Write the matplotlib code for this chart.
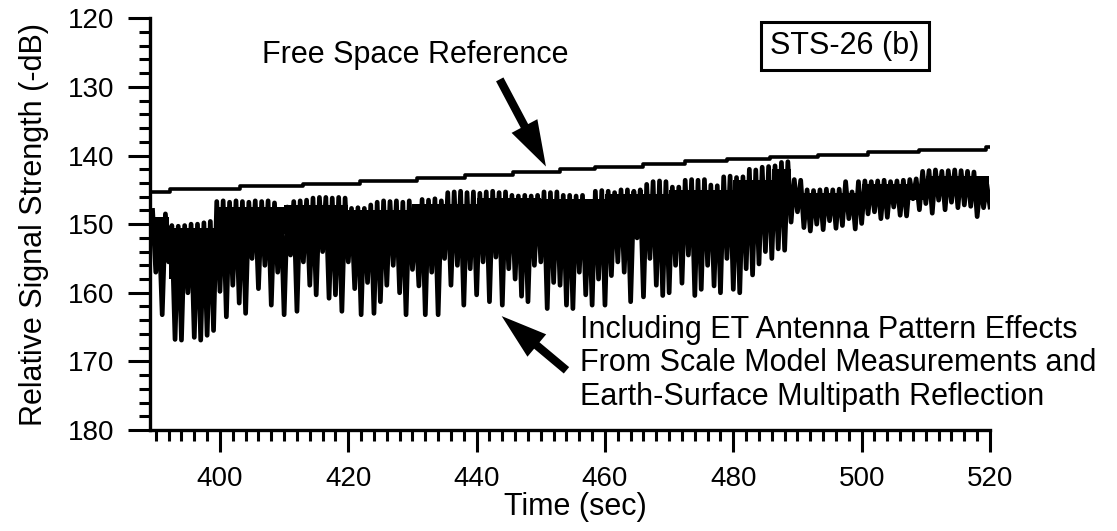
import numpy as np
import matplotlib.pyplot as plt

plt.rcParams['font.family'] = ['Liberation Sans', 'DejaVu Sans']

# free space reference (stair steps), time in sec, strength in -dB
fs_time = [389.5, 392.2, 403.1, 412.9, 421.8, 430.7, 438.2, 445.6, 453.0,
           458.4, 465.9, 472.5, 479.0, 485.7, 493.2, 501.0, 509.0, 519.3, 520.0]
fs_level = [145.3, 144.9, 144.5, 144.1, 143.7, 143.2, 142.8, 142.4, 142.0,
            141.6, 141.2, 140.8, 140.5, 140.2, 139.9, 139.5, 139.2, 138.8, 138.8]

# signal with ET antenna pattern + multipath: upper envelope at t = 389.5, 390.5, ...
sig_top = [148.0, 150.0, 148.5, 150.2, 150.3, 150.2, 150.0, 150.0, 149.8, 149.6,
           146.7, 146.6, 146.8, 146.6, 146.7, 146.8, 146.6, 146.7, 146.6, 146.9,
           148.0, 147.5, 146.7, 146.6, 146.5, 146.2, 146.1, 146.1, 146.2, 146.1,
           146.2, 147.7, 147.6, 147.7, 147.2, 146.8, 146.6, 146.7, 146.6, 146.8,
           146.6, 149.5, 146.4, 146.5, 146.3, 146.6, 145.4, 145.3, 145.2, 145.4,
           145.3, 145.5, 145.3, 145.2, 145.4, 145.3, 145.8, 145.9, 145.8, 145.9,
           145.8, 145.3, 145.4, 145.3, 145.8, 145.8, 145.9, 145.8, 147.2, 145.2,
           145.1, 145.2, 145.4, 145.0, 145.0, 145.2, 145.0, 144.2, 143.8, 143.7,
           143.8, 144.6, 144.6, 143.6, 143.5, 143.6, 143.5, 144.3, 144.4, 143.1,
           143.0, 143.2, 143.1, 142.0, 142.1, 141.7, 141.6, 141.5, 141.0, 140.9,
           143.5, 143.6, 145.0, 145.1, 145.0, 144.9, 145.0, 144.9, 143.8, 145.3,
           143.8, 143.7, 143.8, 143.7, 143.6, 143.8, 143.7, 143.6, 143.5, 143.4,
           142.3, 142.2, 142.1, 142.3, 142.2, 142.1, 142.2, 142.3, 142.4, 144.0,
           144.2]
# fades (dips) at t = 390, 391, ...
sig_dip = [157.0, 163.2, 155.5, 166.8, 166.9, 160.0, 166.5, 166.9, 166.2, 165.5,
           159.8, 163.5, 158.9, 161.5, 163.0, 155.0, 159.4, 156.0, 161.8, 157.0,
           163.2, 154.5, 162.7, 155.5, 158.9, 160.3, 154.0, 160.8, 160.3, 162.7,
           155.5, 159.4, 163.2, 158.5, 163.0, 161.3, 158.9, 156.0, 160.0, 163.2,
           156.6, 159.0, 163.2, 157.0, 163.2, 155.0, 158.9, 156.0, 161.8, 156.5,
           160.3, 155.5, 161.3, 154.8, 161.8, 156.5, 158.0, 160.5, 161.3, 156.0,
           155.5, 162.3, 158.5, 158.9, 161.8, 162.3, 157.0, 160.3, 161.8, 158.0,
           161.8, 157.5, 155.5, 157.0, 161.3, 152.0, 160.6, 155.0, 158.9, 160.4,
           160.0, 156.0, 158.6, 154.5, 160.4, 159.5, 156.0, 159.0, 160.0, 155.0,
           159.5, 160.0, 156.5, 157.4, 155.8, 154.0, 155.0, 153.6, 153.8, 149.7,
           148.2, 150.5, 151.0, 150.0, 150.8, 149.5, 150.6, 150.2, 149.2, 150.7,
           149.9, 148.5, 148.2, 149.2, 149.0, 147.5, 148.7, 148.8, 146.3, 147.9,
           147.0, 148.4, 146.5, 147.9, 146.8, 147.6, 147.2, 147.4, 148.9, 147.6,
           147.5]

# solid (unresolved) part of the trace: segment start times and its upper/lower level
core_time = [389.6, 392, 399.5, 410, 420, 430, 440, 450, 460, 470, 480, 486, 489, 500, 510, 519.8]
core_upper = [149.0, 150.5, 147.5, 147.2, 148.0, 147.0, 146.2, 146.3, 145.6, 145.0,
              143.5, 142.0, 145.5, 144.2, 143.0, 143.0]
core_lower = [153.0, 158.0, 152.0, 151.5, 152.0, 151.0, 151.0, 151.5, 151.0, 150.0,
              149.0, 146.5, 147.5, 146.5, 145.5, 145.5]

x_ticks = [400, 420, 440, 460, 480, 500, 520]
y_ticks = [120, 130, 140, 150, 160, 170, 180]


def main():
    # interleave envelope and fades so the trace zig-zags like the recorder plot
    t_top = 389.5 + np.arange(len(sig_top))
    t_dip = 390.0 + np.arange(len(sig_dip))
    t = np.empty(len(t_top) + len(t_dip))
    v = np.empty_like(t)
    t[0::2], v[0::2] = t_top, sig_top
    t[1::2], v[1::2] = t_dip, sig_dip

    fig = plt.figure(figsize=(11.17, 5.31), dpi=100)
    ax = fig.add_axes([0.1343, 0.1902, 0.752, 0.7753])

    ax.fill_between(core_time, core_upper, core_lower, step='post', color='k', lw=0)
    ax.plot(t, v, color='k', lw=3.4, solid_joinstyle='round')
    ax.plot(fs_time, fs_level, color='k', lw=2.6, drawstyle='steps-post')

    ax.set_xlim(389.1, 520)
    ax.set_ylim(180, 120)
    ax.set_xticks(x_ticks)
    ax.set_xticks(np.arange(390, 520, 2), minor=True)
    ax.set_yticks(y_ticks)
    ax.set_yticks(np.arange(120, 181, 2), minor=True)

    for s in ['top', 'right']:
        ax.spines[s].set_visible(False)
    for s in ['left', 'bottom']:
        ax.spines[s].set_linewidth(2.4)
    ax.tick_params(which='major', direction='out', length=16, width=2.2, labelsize=20, pad=10)
    ax.tick_params(which='minor', direction='out', length=8, width=2.2)

    ax.set_xlabel('Time (sec)', fontsize=22)
    ax.xaxis.set_label_coords(0.506, -0.15)
    ax.set_ylabel('Relative Signal Strength (-dB)', fontsize=22)
    ax.yaxis.set_label_coords(-0.12, 0.5)

    ax.text(406.5, 126.5, 'Free Space Reference', fontsize=22, va='baseline', ha='left')
    ax.text(497.4, 124.0, 'STS-26 (b)', fontsize=22, va='center', ha='center',
            bbox=dict(boxstyle='square,pad=0.3', fc='white', ec='k', lw=2.2))
    ax.text(456.1, 166.55, 'Including ET Antenna Pattern Effects', fontsize=22, va='baseline')
    ax.text(456.1, 171.4, 'From Scale Model Measurements and', fontsize=22, va='baseline')
    ax.text(456.1, 176.3, 'Earth-Surface Multipath Reflection', fontsize=22, va='baseline')

    arrow = dict(arrowstyle='simple,head_length=1.1,head_width=0.7,tail_width=0.2',
                 mutation_scale=30, fc='k', ec='k', lw=0, shrinkA=0, shrinkB=0)
    ax.annotate('', xy=(450.8, 141.6), xytext=(443.6, 128.9), arrowprops=arrow)
    ax.annotate('', xy=(443.9, 163.4), xytext=(454.0, 171.3), arrowprops=arrow)

    fig.savefig('out.png', dpi=100)


if (__name__ == "__main__"):
    main()
